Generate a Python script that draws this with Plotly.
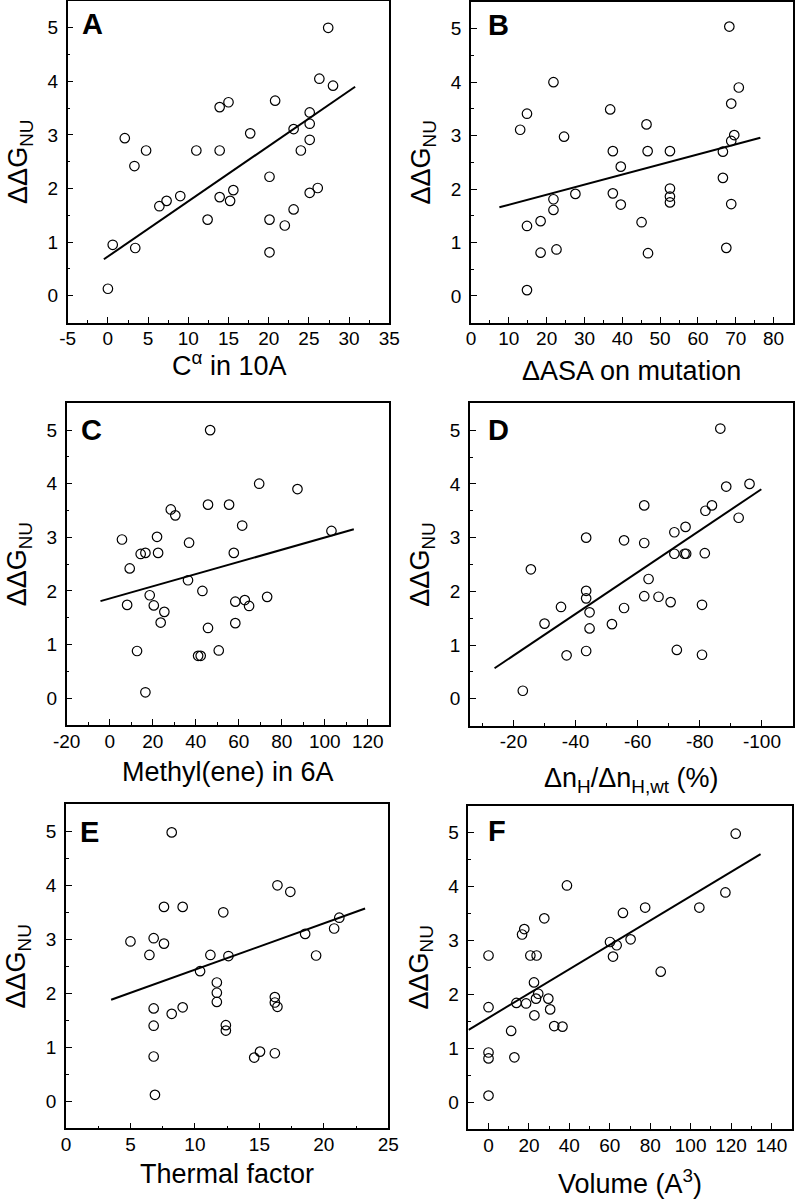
import plotly.graph_objects as go

# ---------------- data ----------------
A_x = [0, 0.6, 3.4, 2.1, 3.3, 4.75, 6.4, 7.3, 9.0, 11.0, 12.4, 13.9, 15.0, 13.9, 13.9, 15.2, 15.6,
       17.7, 20.1, 20.1, 20.1, 20.8, 22.0, 23.1, 23.1, 24.0, 25.1, 25.1, 25.1, 25.1, 26.1, 26.3, 28.0, 27.4]
A_y = [0.13, 0.95, 0.89, 2.94, 2.42, 2.71, 1.67, 1.77, 1.86, 2.71, 1.42, 3.52, 3.61, 2.71, 1.84, 1.77, 1.97,
       3.03, 2.22, 1.42, 0.81, 3.64, 1.31, 1.61, 3.11, 2.71, 3.42, 3.21, 2.91, 1.92, 2.01, 4.05, 3.92, 5.0]
A_fit_x = [-0.5, 30.75]
A_fit_y = [0.68, 3.90]

B_x = [13.0, 14.8, 14.8, 14.8, 18.4, 18.4, 21.8, 21.8, 21.8, 22.6, 24.6, 27.6, 36.8, 37.5, 37.5, 39.6, 39.6,
       45.1, 46.4, 46.7, 46.8, 52.6, 52.6, 52.6, 52.6, 66.6, 66.6, 67.5, 68.3, 68.8, 68.8, 68.8, 69.6, 70.8]
B_y = [3.11, 3.41, 1.31, 0.11, 1.40, 0.81, 4.0, 1.81, 1.61, 0.87, 2.98, 1.91, 3.49, 2.71, 1.92, 2.42, 1.71,
       1.38, 3.21, 2.71, 0.80, 2.71, 2.01, 1.86, 1.75, 2.70, 2.21, 0.90, 5.04, 3.60, 2.90, 1.72, 3.01, 3.90]
B_fit_x = [7.5, 76.5]
B_fit_y = [1.66, 2.96]

C_x = [5.7, 9.3, 8.1, 12.7, 14.4, 16.6, 16.6, 18.6, 20.5, 22.0, 22.5, 23.7, 25.4, 28.4, 30.5, 36.9, 36.4,
       41.1, 42.3, 43.1, 45.7, 45.7, 46.7, 50.7, 55.5, 57.7, 58.4, 58.4, 61.6, 62.8, 64.8, 69.5, 73.2, 87.3, 103.1]
C_y = [2.96, 2.42, 1.74, 0.88, 2.69, 2.71, 0.11, 1.92, 1.73, 3.01, 2.71, 1.41, 1.61, 3.52, 3.41, 2.90, 2.20,
       0.79, 0.79, 2.0, 1.31, 3.61, 5.0, 0.89, 3.61, 2.71, 1.80, 1.40, 3.22, 1.83, 1.72, 4.0, 1.89, 3.90, 3.12]
C_fit_x = [-4.3, 113.5]
C_fit_y = [1.81, 3.15]

D_x = [-23.0, -25.6, -30.0, -35.3, -37.1, -43.4, -43.4, -43.4, -44.5, -44.5, -43.4, -51.7, -55.6, -55.6,
       -62.1, -62.1, -62.1, -63.5, -66.7, -70.6, -71.8, -71.8, -75.1, -75.6, -75.4, -72.6, -80.7, -80.7,
       -81.6, -81.8, -83.9, -86.6, -88.5, -92.5, -96.0]
D_y = [0.15, 2.41, 1.40, 1.71, 0.81, 3.00, 2.01, 1.87, 1.61, 1.31, 0.89, 1.39, 2.95, 1.69,
       3.60, 2.90, 1.91, 2.23, 1.90, 1.80, 3.10, 2.70, 2.70, 2.70, 3.20, 0.91, 1.75, 0.82,
       2.71, 3.50, 3.60, 5.03, 3.95, 3.37, 4.0]
D_fit_x = [-13.9, -99.8]
D_fit_y = [0.57, 3.90]

E_x = [5.0, 6.47, 6.8, 6.8, 6.8, 6.8, 6.9, 7.6, 7.6, 8.2, 8.2, 9.05, 9.05, 10.4, 11.2, 11.7, 11.7, 11.7,
       12.2, 12.4, 12.4, 12.6, 14.6, 15.05, 16.2, 16.2, 16.4, 16.2, 16.4, 17.4, 18.55, 19.4, 20.8, 21.2]
E_y = [2.96, 2.71, 3.02, 1.72, 1.40, 0.83, 0.12, 3.60, 2.92, 4.98, 1.62, 3.60, 1.74, 2.41, 2.71, 2.20, 2.01, 1.84,
       3.50, 1.41, 1.31, 2.69, 0.81, 0.92, 1.93, 1.83, 1.75, 0.89, 4.0, 3.88, 3.10, 2.70, 3.20, 3.40]
E_fit_x = [3.5, 23.2]
E_fit_y = [1.88, 3.57]

F_x = [0, 0, 0, 0, 0, 11.2, 12.8, 13.8, 16.6, 17.7, 18.6, 20.7, 23.8, 22.5, 22.7, 23.5, 24.6, 27.6,
       29.6, 30.5, 32.5, 36.6, 38.8, 60.1, 61.6, 63.4, 66.5, 70.3, 77.5, 85.2, 104.3, 117.2, 122.3]
F_y = [0.12, 0.81, 0.92, 1.76, 2.72, 1.32, 0.83, 1.84, 3.11, 3.21, 1.83, 2.72, 2.72, 2.22, 1.61, 1.92, 2.01, 3.41,
       1.92, 1.72, 1.41, 1.40, 4.02, 2.97, 2.70, 2.91, 3.51, 3.02, 3.61, 2.42, 3.61, 3.89, 4.98]
F_fit_x = [-9.85, 134.6]
F_fit_y = [1.34, 4.60]

# tick labels
A_ticks = [-5, 0, 5, 10, 15, 20, 25, 30, 35]
A_ticktext = ["-5", "0", "5", "10", "15", "20", "25", "30", "35"]
B_ticks = [0, 10, 20, 30, 40, 50, 60, 70, 80]
B_ticktext = ["0", "10", "20", "30", "40", "50", "60", "70", "80"]
C_ticks = [-20, 0, 20, 40, 60, 80, 100, 120]
C_ticktext = ["-20", "0", "20", "40", "60", "80", "100", "120"]
D_ticks = [-20, -40, -60, -80, -100]
D_ticktext = ["-20", "-40", "-60", "-80", "-100"]
E_ticks = [0, 5, 10, 15, 20, 25]
E_ticktext = ["0", "5", "10", "15", "20", "25"]
F_ticks = [0, 20, 40, 60, 80, 100, 120, 140]
F_ticktext = ["0", "20", "40", "60", "80", "100", "120", "140"]
Y_ticks = [0, 1, 2, 3, 4, 5]

panel_letters = ["A", "B", "C", "D", "E", "F"]
x_titles = ["C<sup>α</sup> in 10A", "ΔASA on mutation", "Methyl(ene) in 6A",
            "Δn<sub>H</sub>/Δn<sub>H,wt</sub> (%)", "Thermal factor", "Volume (A<sup>3</sup>)"]
y_title = "ΔΔG<sub>NU</sub>"

# ---------------- layout geometry ----------------
W, H = 795, 1199
FONT = "Liberation Sans, Arial, Helvetica, sans-serif"

panels = [
    dict(x=A_x, y=A_y, fx=A_fit_x, fy=A_fit_y, ticks=A_ticks, tt=A_ticktext, rng=[-5, 35], minor=2.5,
         box=(67.7, 389.3, 1, 322.5), letter_off=(12, 5), title_y=364),
    dict(x=B_x, y=B_y, fx=B_fit_x, fy=B_fit_y, ticks=B_ticks, tt=B_ticktext, rng=[0, 85], minor=5,
         box=(471, 792.5, 2, 322.7), letter_off=(15, 5), title_y=371),
    dict(x=C_x, y=C_y, fx=C_fit_x, fy=C_fit_y, ticks=C_ticks, tt=C_ticktext, rng=[-20, 130], minor=10,
         box=(66.7, 389.3, 403.3, 725), letter_off=(12, 9), title_y=772),
    dict(x=D_x, y=D_y, fx=D_fit_x, fy=D_fit_y, ticks=D_ticks, tt=D_ticktext, rng=[-6, -110], minor=10,
         box=(470, 793, 403.3, 725.7), letter_off=(16, 9), title_y=780),
    dict(x=E_x, y=E_y, fx=E_fit_x, fy=E_fit_y, ticks=E_ticks, tt=E_ticktext, rng=[0, 25], minor=2.5,
         box=(66, 388.3, 804.3, 1128.3), letter_off=(12, 10), title_y=1174),
    dict(x=F_x, y=F_y, fx=F_fit_x, fy=F_fit_y, ticks=F_ticks, tt=F_ticktext, rng=[-10, 150], minor=10,
         box=(468.3, 791.7, 805.7, 1129), letter_off=(18, 7), title_y=1182),
]

fig = go.Figure()
annotations = []
for i, p in enumerate(panels):
    n = "" if i == 0 else str(i + 1)
    xa, ya = "x" + n, "y" + n
    fig.add_trace(go.Scatter(x=p["x"], y=p["y"], mode="markers", xaxis=xa, yaxis=ya,
                             marker=dict(symbol="circle-open", size=9.5, color="black",
                                         line=dict(width=1.2, color="black")),
                             showlegend=False, hoverinfo="skip"))
    fig.add_trace(go.Scatter(x=p["fx"], y=p["fy"], mode="lines", xaxis=xa, yaxis=ya,
                             line=dict(color="black", width=2), showlegend=False, hoverinfo="skip"))
    l, r, t, b = p["box"]
    common = dict(showline=True, linecolor="black", linewidth=1.5, mirror=True, showgrid=False,
                  zeroline=False, ticks="inside", ticklen=6, tickwidth=1.2, tickcolor="black",
                  tickfont=dict(family=FONT, size=19, color="black"), automargin=False)
    fig.update_layout(**{
        "xaxis" + n: dict(domain=[l / W, r / W], anchor=ya, range=p["rng"],
                          tickmode="array", tickvals=p["ticks"], ticktext=p["tt"],
                          minor=dict(ticks="inside", ticklen=3, tickwidth=1, tickcolor="black",
                                     dtick=p["minor"], showgrid=False),
                          ticklabelstandoff=-2,
                          **common),
        "yaxis" + n: dict(domain=[1 - b / H, 1 - t / H], anchor=xa, range=[-0.5, 5.5],
                          tickmode="array", tickvals=Y_ticks,
                          minor=dict(ticks="inside", ticklen=3, tickwidth=1, tickcolor="black",
                                     dtick=0.5, showgrid=False),
                          ticklabelstandoff=4,
                          title=dict(text=y_title, font=dict(family=FONT, size=27, color="black"),
                                     standoff=12),
                          **common),
    })
    # panel letter
    annotations.append(dict(text="<b>%s</b>" % panel_letters[i], xref="paper", yref="paper",
                            x=(l + p["letter_off"][0]) / W, y=1 - (t + p["letter_off"][1]) / H,
                            xanchor="left", yanchor="top", showarrow=False,
                            font=dict(family=FONT, size=29, color="black")))
    # x-axis title
    annotations.append(dict(text=x_titles[i], xref=xa + " domain", yref="paper",
                            x=0.5, y=1 - p["title_y"] / H, xanchor="center", yanchor="middle",
                            showarrow=False, font=dict(family=FONT, size=27, color="black")))

fig.update_layout(width=W, height=H, margin=dict(l=0, r=0, t=0, b=0),
                  paper_bgcolor="white", plot_bgcolor="white", annotations=annotations)

fig.write_html("out.html", config={"displayModeBar": False},
               post_script="document.body.style.margin='0px';document.body.style.overflow='hidden';")
